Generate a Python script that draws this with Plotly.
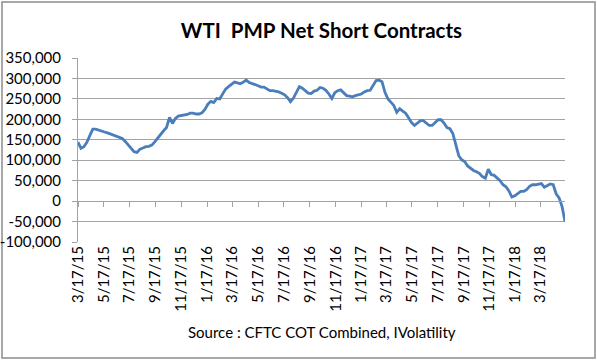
import pandas as pd
import plotly.graph_objects as go

# Weekly net short contracts (WTI, Producer/Merchant/Processor), starting 3/17/2015
start_date = "2015-03-17"
net_short_k = [
    144, 129, 133, 144, 160, 176, 176, 173, 171, 169,
    167, 164, 160, 158, 156, 153, 146, 137, 130, 121,
    119, 127, 130, 133, 134, 137, 145, 155, 165, 172,
    180, 205, 190, 202, 208, 209, 210, 212, 215, 215,
    213, 213, 216, 224, 237, 244, 241, 251, 250, 262,
    274, 280, 286, 291, 289, 287, 291, 296, 290, 288,
    285, 282, 279, 279, 274, 270, 270, 269, 267, 264,
    260, 253, 243, 252, 268, 280, 276, 270, 264, 263,
    269, 271, 278, 276, 271, 262, 251, 265, 270, 272,
    265, 258, 257, 255, 258, 260, 262, 267, 270, 271,
    282, 295, 296, 292, 266, 250, 242, 234, 217, 226,
    220, 215, 204, 192, 185, 191, 197, 197, 190, 185,
    185, 192, 199, 199, 191, 180, 177, 165, 136, 111,
    101, 97, 86, 80, 75, 72, 68, 60, 56, 78,
    65, 63, 57, 50, 40, 35, 25, 10, 13, 19,
    24, 24, 28, 36, 40, 40, 42, 43, 34, 37,
    42, 40, 18, 8, -13, -50,
]
net_short = [v * 1000 for v in net_short_k]
dates = pd.date_range(start=start_date, periods=len(net_short), freq="7D")

x_tick_dates = [
    "2015-03-17", "2015-05-17", "2015-07-17", "2015-09-17", "2015-11-17",
    "2016-01-17", "2016-03-17", "2016-05-17", "2016-07-17", "2016-09-17",
    "2016-11-17", "2017-01-17", "2017-03-17", "2017-05-17", "2017-07-17",
    "2017-09-17", "2017-11-17", "2018-01-17", "2018-03-17",
]
x_tick_labels = [
    "3/17/15", "5/17/15", "7/17/15", "9/17/15", "11/17/15",
    "1/17/16", "3/17/16", "5/17/16", "7/17/16", "9/17/16",
    "11/17/16", "1/17/17", "3/17/17", "5/17/17", "7/17/17",
    "9/17/17", "11/17/17", "1/17/18", "3/17/18",
]
y_tick_vals = [-100000, -50000, 0, 50000, 100000, 150000, 200000, 250000, 300000, 350000]
y_tick_labels = ["-100,000", "-50,000", "0", "50,000", "100,000", "150,000",
                 "200,000", "250,000", "300,000", "350,000"]

title_text = "WTI  PMP Net Short Contracts"
source_text = "Source : CFTC COT Combined, IVolatility"

FONT = "Lato"
GRID = "#a3a3a3"
W, H = 597, 360
L, R, T, B = 78, 32, 58, 118
pw, ph = W - L - R, H - T - B

fig = go.Figure()
fig.add_trace(go.Scatter(
    x=dates, y=net_short, mode="lines",
    line=dict(color="#4a7ebb", width=2.8),
    hoverinfo="x+y", showlegend=False,
))
# invisible helper trace so the tick-mark axis at y=0 is drawn
fig.add_trace(go.Scatter(
    x=dates[:1], y=net_short[:1], xaxis="x2", mode="lines",
    line=dict(width=0), hoverinfo="skip", showlegend=False,
))

x_range = [dates[0], dates[-1]]
ymin, ymax = -100000, 350000
zero_frac = (0 - ymin) / (ymax - ymin)

fig.update_layout(
    width=W, height=H,
    margin=dict(l=L, r=R, t=T, b=B, autoexpand=False),
    paper_bgcolor="white", plot_bgcolor="white",
    font=dict(family=FONT, size=15, color="#000000"),
    title=dict(text=f"<b>{title_text}</b>", x=(L + pw / 2) / W, xanchor="center",
               y=1 - 31 / H, yanchor="middle", yref="container",
               font=dict(family=FONT, size=20.5, color="#000000")),
    xaxis=dict(
        type="date", range=x_range, automargin=False,
        tickvals=x_tick_dates, ticktext=x_tick_labels, tickangle=-90,
        showgrid=False, zeroline=False, showline=False, ticks="",
        tickfont=dict(family=FONT, size=15),
    ),
    xaxis2=dict(
        type="date", range=x_range, overlaying="x", matches="x",
        anchor="free", position=zero_frac, automargin=False,
        tickvals=x_tick_dates, showticklabels=False,
        showgrid=False, zeroline=False, showline=True, linecolor=GRID, linewidth=1,
        ticks="outside", ticklen=5, tickcolor=GRID, tickwidth=1,
    ),
    yaxis=dict(
        range=[ymin, ymax], tickvals=y_tick_vals, ticktext=y_tick_labels,
        automargin=False,
        showgrid=True, gridcolor=GRID, gridwidth=1, zeroline=False,
        showline=True, linecolor=GRID, linewidth=1,
        ticks="outside", ticklen=5, tickcolor=GRID,
        ticklabelstandoff=8,
        tickfont=dict(family=FONT, size=15),
    ),
    annotations=[dict(
        text=source_text, xref="paper", yref="paper",
        x=0.5, y=(242 - 332) / ph, xanchor="center", yanchor="middle",
        showarrow=False, font=dict(family=FONT, size=15, color="#000000"),
    )],
    shapes=[dict(
        type="rect", xref="paper", yref="paper",
        x0=(2 - L) / pw, x1=(595 - L) / pw,
        y0=(H - B - 358) / ph, y1=(H - B - 2) / ph,
        line=dict(color="#8c8c8c", width=1.5), fillcolor="rgba(0,0,0,0)",
        layer="below",
    )],
)

fig.write_html(
    "out.html",
    config={"displayModeBar": False},
    post_script="document.body.style.margin='0';document.body.style.overflow='hidden';",
)
